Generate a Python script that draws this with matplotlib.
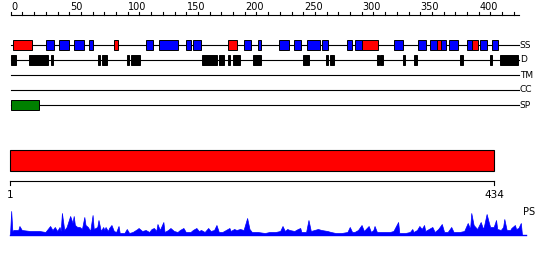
import matplotlib
matplotlib.use('Agg')
import matplotlib.pyplot as plt
from matplotlib.patches import Rectangle

seq_len = 434

# secondary structure: (start, end) in residues
helices = [(2, 18), (88, 92), (186, 193), (300, 314), (364, 367.5), (394, 399)]
strands = [(30.5, 37), (41.5, 50), (54.5, 63), (67, 70.5), (116, 122), (127, 143),
           (150, 154), (156, 163), (199, 205), (211, 214), (229.5, 238), (242, 248),
           (253.5, 264.5), (266, 271), (287, 291.5), (294.5, 300), (328, 335),
           (348, 355), (358, 364), (367.5, 372), (375, 382), (390, 394),
           (401.5, 407.5), (411, 416.5)]
disorder = [(0, 4.3), (16, 31.6), (34.7, 36), (74.6, 76.3), (78, 82.3), (99.4, 100.9),
            (102.8, 110.3), (163.8, 176.6), (178, 182), (185.7, 187.2), (190, 196),
            (207.4, 214), (250, 254.7), (269.5, 271), (272.6, 276), (313.3, 315),
            (315.6, 318.5), (335.3, 336.7), (344.7, 347), (384.3, 386.3),
            (409.7, 411), (418, 434)]
tm = []
cc = []
sp = [(0, 24)]
domains = [(1, 434)]

# PS profile (residue, score)
ps_pos = [0, 1, 2, 3, 7, 8, 10, 17, 25, 30, 34, 36, 38, 40, 42, 43, 44, 46, 48, 51,
          53, 54, 55, 57, 59, 61, 63, 64, 66, 68, 70, 71, 74, 75, 77, 79, 80, 81, 83,
          84, 86, 88, 90, 92, 93, 97, 99, 101, 104, 108, 109, 112, 115, 118, 120, 122,
          124, 125, 127, 130, 131, 134, 136, 137, 139, 142, 144, 147, 149, 153, 155,
          158, 160, 162, 165, 168, 170, 173, 175, 177, 180, 183, 186, 187, 190, 192,
          195, 198, 201, 203, 205, 210, 216, 220, 225, 229, 231, 233, 235, 237, 241,
          244, 246, 247, 251, 253, 255, 258, 261, 264, 269, 272, 276, 281, 286, 288,
          290, 292, 295, 298, 300, 304, 306, 308, 309, 311, 314, 318, 322, 325, 329,
          330, 335, 339, 341, 342, 345, 347, 349, 351, 352, 355, 358, 360, 363, 366,
          368, 371, 374, 376, 381, 385, 388, 390, 391, 393, 396, 399, 401, 402, 404,
          406, 407, 410, 412, 413, 416, 418, 419, 421, 424, 425, 428, 429, 431, 433, 434]
ps_val = [0, 24, 4, 5, 5, 9, 5, 4, 4, 3, 9, 5, 8, 4, 8, 4, 22, 5, 8, 19,
          12, 19, 10, 8, 8, 6, 18, 10, 8, 4, 20, 6, 8, 15, 4, 8, 5, 8, 4,
          7, 10, 4, 3, 9, 2, 2, 6, 2, 3, 6, 7, 4, 5, 3, 6, 7,
          4, 11, 5, 13, 3, 5, 7, 6, 4, 3, 5, 7, 3, 3, 5,
          7, 4, 5, 3, 7, 4, 5, 10, 3, 3, 5, 7, 4, 6, 5,
          6, 5, 17, 6, 3, 3, 2, 3, 3, 4, 9, 4, 6, 5, 4,
          6, 7, 3, 3, 15, 4, 5, 6, 5, 4, 3, 2, 2, 3, 8,
          3, 3, 5, 10, 4, 9, 3, 5, 9, 3, 3, 3, 3, 4, 13,
          2, 2, 3, 6, 3, 5, 9, 6, 10, 4, 6, 8, 3, 6, 11,
          3, 3, 8, 3, 3, 4, 12, 6, 22, 10, 6, 13, 6, 10, 21,
          12, 8, 8, 15, 6, 5, 8, 16, 5, 5, 7, 10, 6, 7, 12, 0]

W, H = 550, 260
fig = plt.figure(figsize=(5.5, 2.6), dpi=100)

def px_axes(x0, x1, y0, y1):
    return fig.add_axes([x0 / W, 1 - y1 / H, (x1 - x0) / W, (y1 - y0) / H])

# top panel: ruler + feature tracks (y in pixel rows)
ax = px_axes(10.7, 518.5, 0, 115)
ax.set_xlim(0, seq_len)
ax.set_ylim(115, 0)
ax.axis('off')

ax.plot([0, seq_len], [14.7, 14.7], color='black', lw=0.8, clip_on=False)
for t in range(0, seq_len, 10):
    ax.plot([t, t], [14.7, 11.5], color='black', lw=0.8, clip_on=False)
    if t % 50 == 0:
        ax.text(t + 0.5, 10, str(t), fontsize=7, ha='left', va='baseline', color='black')

tracks = [('SS', 45), ('D', 60), ('TM', 75), ('CC', 90), ('SP', 105)]
for name, y in tracks:
    ax.plot([0, seq_len], [y, y], color='black', lw=0.8, clip_on=False, zorder=1)
    ax.text(seq_len + 1, y, name, fontsize=6.5, ha='left', va='center')

def boxes(items, y, color, h=10.5):
    for s, e in items:
        ax.add_patch(Rectangle((s, y - h / 2), e - s, h, facecolor=color,
                               edgecolor='black', lw=0.7, zorder=3, clip_on=False))

boxes(helices, 45, '#ff0000')
boxes(strands, 45, '#0000ff')
boxes(disorder, 60, 'black')
boxes(tm, 75, 'black')
boxes(cc, 90, 'black')
boxes(sp, 105, '#008000')

# domain bar + ruler
ax2 = px_axes(10, 494, 145, 205)
ax2.set_xlim(1, seq_len)
ax2.set_ylim(205, 145)
ax2.axis('off')
for s, e in domains:
    ax2.add_patch(Rectangle((s, 150), e - s, 20.7, facecolor='#ff0000',
                            edgecolor='black', lw=0.8, clip_on=False))
ax2.plot([1, seq_len], [180.7, 180.7], color='black', lw=0.8, clip_on=False)
for t in [1, seq_len]:
    ax2.plot([t, t], [180.7, 185.5], color='black', lw=0.8, clip_on=False)
    ax2.text(t, 198.5, str(t), fontsize=7.5, ha='center', va='baseline')

# PS profile
ax3 = px_axes(10, 522, 209, 235)
ax3.set_xlim(0, seq_len)
ax3.set_ylim(0, 26)
ax3.axis('off')
ax3.fill_between(ps_pos, ps_val, 0, color='#0000ff', lw=0.5)
ax3.plot([0, seq_len + 3], [0, 0], color='#0000ff', lw=1, clip_on=False)
ax3.text(seq_len + 0.5, 20, 'PS', fontsize=7, ha='left', va='baseline',
         transform=ax3.transData)

fig.savefig('out.png', dpi=100)
